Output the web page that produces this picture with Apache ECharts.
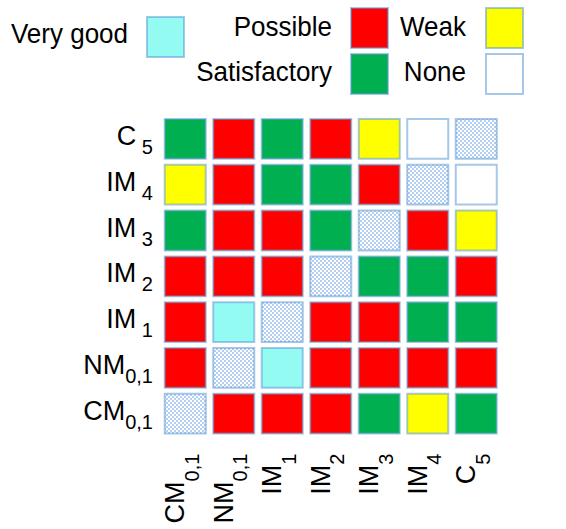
<!DOCTYPE html>
<html>
<head>
<meta charset="utf-8">
<script src="https://cdn.jsdelivr.net/npm/echarts@6/dist/echarts.min.js"></script>
<style>
  html, body { margin: 0; padding: 0; background: #fff; }
  #chart { width: 566px; height: 529px; }
</style>
</head>
<body>
<div id="chart"></div>
<script>
// categories (y axis goes bottom -> top)
const cats = ['CM0,1', 'NM0,1', 'IM1', 'IM2', 'IM3', 'IM4', 'C5'];
const catMain = ['CM', 'NM', 'IM', 'IM', 'IM', 'IM', 'C'];
const catSub = ['0,1', '0,1', '1', '2', '3', '4', '5'];

const levels = ['Very good', 'Possible', 'Weak', 'Satisfactory', 'None'];

// rows read top -> bottom, columns CM0,1 ... C5; '-' marks the item against itself
const rowC5  = ['Satisfactory', 'Possible', 'Satisfactory', 'Possible', 'Weak', 'None', '-'];
const rowIM4 = ['Weak', 'Possible', 'Satisfactory', 'Satisfactory', 'Possible', '-', 'None'];
const rowIM3 = ['Satisfactory', 'Possible', 'Possible', 'Satisfactory', '-', 'Possible', 'Weak'];
const rowIM2 = ['Possible', 'Possible', 'Possible', '-', 'Satisfactory', 'Satisfactory', 'Possible'];
const rowIM1 = ['Possible', 'Very good', '-', 'Possible', 'Possible', 'Satisfactory', 'Satisfactory'];
const rowNM  = ['Possible', '-', 'Very good', 'Possible', 'Possible', 'Possible', 'Possible'];
const rowCM  = ['-', 'Possible', 'Possible', 'Possible', 'Satisfactory', 'Weak', 'Satisfactory'];

const rows = [rowCM, rowNM, rowIM1, rowIM2, rowIM3, rowIM4, rowC5]; // bottom -> top

const levelColor = {
  'Very good': '#94fbf3',
  'Possible': '#ff0000',
  'Weak': '#ffff00',
  'Satisfactory': '#00b050',
  'None': '#ffffff'
};
const edge = 'rgba(91,155,213,0.55)';

// little checker used for the diagonal cells
function hatch() {
  const cv = document.createElement('canvas');
  cv.width = 4; cv.height = 4;
  const ctx = cv.getContext('2d');
  ctx.fillStyle = '#ffffff';
  ctx.fillRect(0, 0, 4, 4);
  ctx.fillStyle = '#b3cef0';
  ctx.fillRect(0, 0, 2, 2);
  ctx.fillRect(2, 2, 2, 2);
  return { image: cv.toDataURL(), repeat: 'repeat', imageWidth: 4, imageHeight: 4 };
}
const hatchFill = hatch();

const data = [];
rows.forEach((row, y) => {
  row.forEach((lv, x) => {
    data.push([x, y, levels.indexOf(lv)]);
  });
});

function renderCell(params, api) {
  const c = api.coord([api.value(0), api.value(1)]);
  const s = api.size([1, 1]);
  const w = s[0] - 7.5, h = s[1] - 6;
  const k = api.value(2);
  return {
    type: 'rect',
    shape: { x: c[0] - w / 2, y: c[1] - h / 2, width: w, height: h },
    style: {
      fill: k < 0 ? hatchFill : levelColor[levels[k]],
      stroke: edge,
      lineWidth: 2
    }
  };
}

const font = 'Liberation Sans, Arial, sans-serif';

// legend, drawn by hand to keep the text-left / box-right layout
const legendSlots = {
  'Very good':    { tx: 128, ty: 34, bx: 147, by: 17 },
  'Possible':     { tx: 332, ty: 27, bx: 351, by: 8 },
  'Weak':         { tx: 466, ty: 27, bx: 486, by: 8 },
  'Satisfactory': { tx: 332, ty: 72, bx: 351, by: 54 },
  'None':         { tx: 466, ty: 72, bx: 486, by: 54 }
};
const graphic = [];
levels.forEach(lv => {
  const p = legendSlots[lv];
  graphic.push({
    type: 'text',
    x: p.tx, y: p.ty, scaleY: 1.08,
    style: {
      text: lv, x: 0, y: 0, align: 'right', verticalAlign: 'middle',
      fontSize: 26, fontFamily: font, fill: '#000'
    }
  });
  graphic.push({
    type: 'rect',
    shape: { x: p.bx, y: p.by, width: 37, height: 40 },
    style: { fill: levelColor[lv], stroke: edge, lineWidth: 2 }
  });
});

const chart = echarts.init(document.getElementById('chart'), null, { renderer: 'svg' });
chart.setOption({
  animation: false,
  graphic: graphic,
  grid: { left: 161, right: 65.5, top: 116, bottom: 92.4, outerBoundsMode: 'none' },
  xAxis: {
    type: 'category',
    data: cats,
    axisLine: { show: false },
    axisTick: { show: false },
    splitLine: { show: false },
    axisLabel: {
      rotate: 90,
      margin: 17,
      interval: 0,
      formatter: (v, i) => '{m|' + catMain[i] + '}{s|' + catSub[i] + '}',
      rich: {
        m: { fontSize: 27, fontFamily: font, color: '#000', lineHeight: 30, padding: [0, 0, 20, 0] },
        s: { fontSize: 20, fontFamily: font, color: '#000', lineHeight: 20, padding: [13, 0, 0, 0] }
      }
    }
  },
  yAxis: {
    type: 'category',
    data: cats,
    axisLine: { show: false },
    axisTick: { show: false },
    splitLine: { show: false },
    axisLabel: {
      margin: 8,
      interval: 0,
      formatter: (v, i) => '{m|' + catMain[i] + '}{s|' + (catSub[i].length === 1 ? ' ' : '') + catSub[i] + '}',
      rich: {
        m: { fontSize: 27, fontFamily: font, color: '#000', lineHeight: 30, padding: [0, 0, 6, 0] },
        s: { fontSize: 20, fontFamily: font, color: '#000', lineHeight: 20, padding: [16, 0, 0, 0] }
      }
    }
  },
  series: [{
    type: 'custom',
    renderItem: renderCell,
    encode: { x: 0, y: 1 },
    data: data
  }]
});
</script>
</body>
</html>
